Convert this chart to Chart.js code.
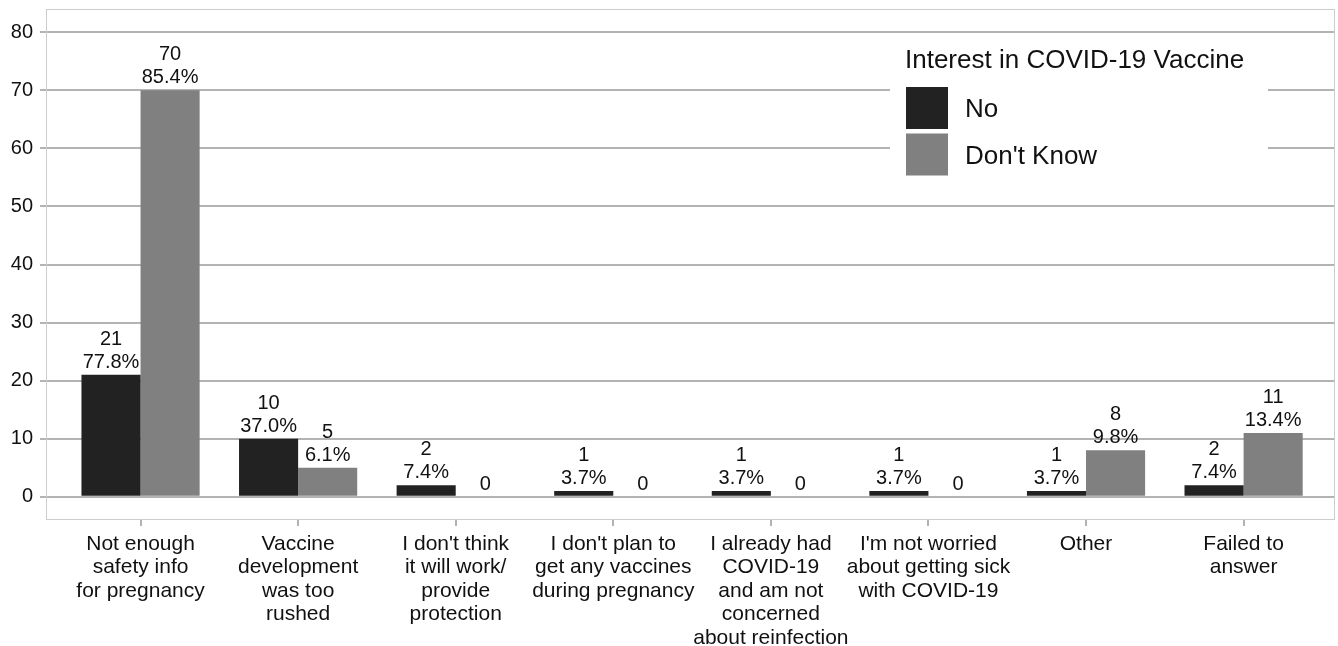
<!DOCTYPE html>
<html><head><meta charset="utf-8">
<script src="https://cdn.jsdelivr.net/npm/chart.js@4.4.0/dist/chart.umd.min.js"></script>
<style>html,body{margin:0;padding:0;background:#fff;}</style>
</head><body>
<canvas id="c" width="1338" height="646"></canvas>
<script>
const categories = [
  ['Not enough', 'safety info', 'for pregnancy'],
  ['Vaccine', 'development', 'was too', 'rushed'],
  ["I don't think", 'it will work/', 'provide', 'protection'],
  ["I don't plan to", 'get any vaccines', 'during pregnancy'],
  ['I already had', 'COVID-19', 'and am not', 'concerned', 'about reinfection'],
  ["I'm not worried", 'about getting sick', 'with COVID-19'],
  ['Other'],
  ['Failed to', 'answer']
];
const seriesNames = ['No', "Don't Know"];
const noCounts = [21, 10, 2, 1, 1, 1, 1, 2];
const noPercents = ['77.8%', '37.0%', '7.4%', '3.7%', '3.7%', '3.7%', '3.7%', '7.4%'];
const dkCounts = [70, 5, 0, 0, 0, 0, 8, 11];
const dkPercents = ['85.4%', '6.1%', null, null, null, null, '9.8%', '13.4%'];
const yTicks = [0, 10, 20, 30, 40, 50, 60, 70, 80];
const legendTitle = 'Interest in COVID-19 Vaccine';
const colors = ['#222222', '#808080'];

const FONT = '"Liberation Sans", Arial, sans-serif';
const percents = [noPercents, dkPercents];

const panelPlugin = {
  id: 'panel',
  beforeDatasetsDraw(chart) {
    const a = chart.chartArea, ctx = chart.ctx;
    ctx.save();
    ctx.strokeStyle = '#cccccc';
    ctx.lineWidth = 1;
    ctx.strokeRect(a.left + 0.5, a.top + 0.5, a.right - a.left - 1, a.bottom - a.top - 1);
    ctx.restore();
  }
};

const labelPlugin = {
  id: 'barLabels',
  afterDatasetsDraw(chart) {
    const ctx = chart.ctx;
    ctx.save();
    ctx.font = '20px ' + FONT;
    ctx.fillStyle = '#111111';
    ctx.textAlign = 'center';
    ctx.textBaseline = 'alphabetic';
    chart.data.datasets.forEach((ds, di) => {
      const meta = chart.getDatasetMeta(di);
      meta.data.forEach((bar, i) => {
        const v = ds.data[i].y;
        const lines = [String(v)];
        if (percents[di][i]) lines.push(percents[di][i]);
        let y = bar.y - 7;
        for (let k = lines.length - 1; k >= 0; k--) {
          ctx.fillText(lines[k], bar.x, y);
          y -= 23;
        }
      });
    });
    ctx.restore();
  }
};

const legendPlugin = {
  id: 'customLegend',
  afterDraw(chart) {
    const a = chart.chartArea, ctx = chart.ctx;
    const bx = a.right - 445, by = a.top + 24;
    ctx.save();
    ctx.fillStyle = '#ffffff';
    ctx.fillRect(bx, by, 378, 157);
    ctx.fillStyle = '#111111';
    ctx.font = '26px ' + FONT;
    ctx.textAlign = 'left';
    ctx.textBaseline = 'alphabetic';
    ctx.fillText(legendTitle, bx + 15, by + 35);
    chart.data.datasets.forEach((ds, i) => {
      const sy = by + 54 + i * 46.5;
      ctx.fillStyle = ds.backgroundColor;
      ctx.fillRect(bx + 16, sy, 42, 42);
      ctx.fillStyle = '#111111';
      ctx.fillText(ds.label, bx + 75, sy + 30);
    });
    ctx.restore();
  }
};

new Chart(document.getElementById('c'), {
  type: 'bar',
  data: {
    datasets: [
      { label: seriesNames[0], data: noCounts.map((v, i) => ({ x: i, y: v })), backgroundColor: colors[0] },
      { label: seriesNames[1], data: dkCounts.map((v, i) => ({ x: i, y: v })), backgroundColor: colors[1] }
    ]
  },
  options: {
    responsive: false,
    animation: false,
    devicePixelRatio: 1,
    layout: { padding: { left: 0, top: 9, right: 3, bottom: 0 } },
    datasets: { bar: { categoryPercentage: 0.75, barPercentage: 1, borderWidth: 0 } },
    plugins: { legend: { display: false }, tooltip: { enabled: false } },
    scales: {
      x: {
        type: 'linear',
        offset: false,
        min: -0.6,
        max: 7.58,
        afterBuildTicks: s => { s.ticks = categories.map((_, i) => ({ value: i })); },
        afterFit: s => { s.height = 126; s.paddingLeft = 0; s.paddingRight = 0; },
        ticks: {
          autoSkip: false, maxRotation: 0, minRotation: 0,
          callback: v => categories[v],
          font: { family: FONT, size: 21, lineHeight: 1.12 },
          color: '#111111',
          padding: 6
        },
        grid: { offset: false, drawOnChartArea: false, drawTicks: true, tickLength: 6, color: '#b3b3b3', lineWidth: 2 },
        border: { display: false }
      },
      y: {
        min: -4,
        max: 84,
        afterBuildTicks: s => { s.ticks = yTicks.map(v => ({ value: v })); },
        afterFit: s => { s.width = 46; s.paddingTop = 0; s.paddingBottom = 0; },
        ticks: { font: { family: FONT, size: 20 }, color: '#111111', padding: 7 },
        grid: { color: '#b3b3b3', lineWidth: 2, tickLength: 6 },
        border: { display: false }
      }
    }
  },
  plugins: [panelPlugin, labelPlugin, legendPlugin]
});
</script>
</body></html>
